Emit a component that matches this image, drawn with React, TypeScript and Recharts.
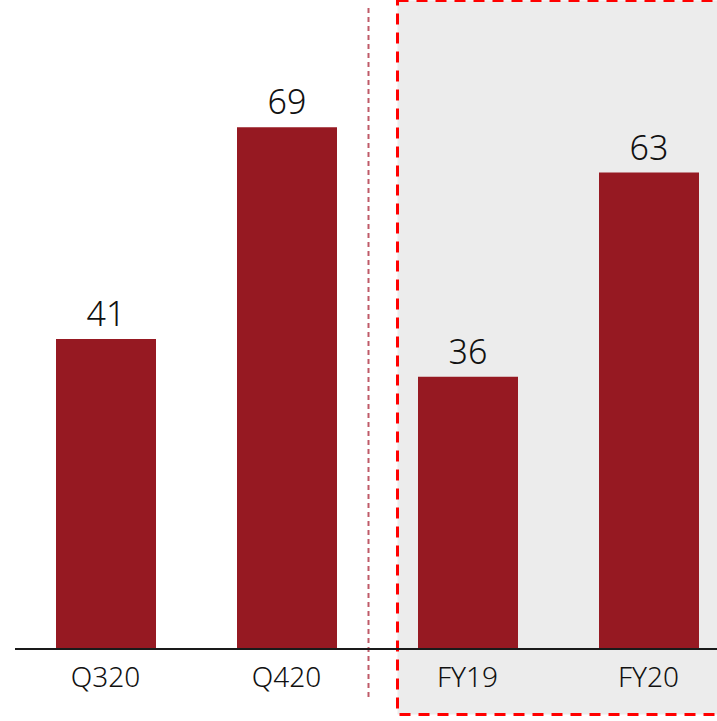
import React from 'react';
import { BarChart, Bar, XAxis, YAxis, LabelList } from 'recharts';

const categories = ['Q320', 'Q420', 'FY19', 'FY20'];
const values = [41, 69, 36, 63];

const data = categories.map((name, i) => ({ name, value: values[i] }));

const FONT = '"Noto Sans", sans-serif';

const Backdrop = () => (
  <svg width={717} height={721} style={{ position: 'absolute', left: 0, top: 0 }}>
    {/* full-year panel */}
    <rect x={397.5} y={0.5} width={400} height={714} fill="#ececec" stroke="#ff0000" strokeWidth={3} strokeDasharray="11 8" />
    {/* quarter / year divider */}
    <line x1={368.5} y1={8} x2={368.5} y2={698} stroke="#bf5a68" strokeWidth={2} strokeDasharray="5 4" />
  </svg>
);

const App = () => {
  return (
    <div style={{ position: 'absolute', left: 0, top: 0, width: 717, height: 721, overflow: 'hidden', background: '#fff' }}>
      <Backdrop />
      <div style={{ position: 'absolute', left: 0, top: 0 }}>
        <BarChart width={739} height={721} data={data} margin={{ top: 44, right: 0, bottom: 0, left: 15 }}>
          <XAxis
            dataKey="name"
            height={72}
            tickLine={false}
            tickSize={6}
            tickMargin={12}
            axisLine={{ stroke: '#1a1a1a', strokeWidth: 2 }}
            tick={{ fill: '#111', fontSize: 28, fontFamily: FONT, fontWeight: 300 }}
          />
          <YAxis hide domain={[0, 80]} />
          <Bar dataKey="value" fill="#961922" barSize={100} isAnimationActive={false}>
            <LabelList dataKey="value" position="top" offset={13} fill="#111" fontSize={34} fontFamily={FONT} fontWeight={300} />
          </Bar>
        </BarChart>
      </div>
    </div>
  );
};

export default App;
